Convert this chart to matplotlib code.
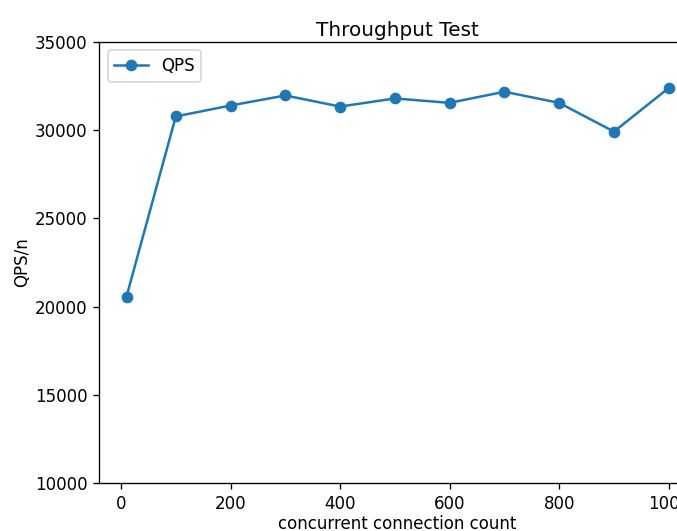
import matplotlib
matplotlib.use('Agg')
import matplotlib.pyplot as plt

# concurrency levels and measured QPS
connections = [10, 100, 200, 300, 400, 500, 600, 700, 800, 900, 1000]
qps = [20570, 30780, 31400, 31970, 31340, 31800, 31550, 32180, 31550, 29920, 32390]

DPI = 120
fig = plt.figure(figsize=(677 / DPI, 531 / DPI), dpi=DPI)
# the original image is cropped on the right, so the axes run past the edge
ax = fig.add_axes([99.4 / 677, 48 / 531, 596.4 / 677, 441 / 531])

ax.plot(connections, qps, 'o-', color='#1f77b4', label='QPS')
ax.set_ylim(10000, 35000)
ax.set_title('Throughput Test', fontsize=12, pad=3.5)
ax.set_xlabel('concurrent connection count', labelpad=1.5)
ax.set_ylabel('QPS/n', labelpad=2.5)
ax.legend(loc='upper left')

fig.savefig('out.png', dpi=DPI)
